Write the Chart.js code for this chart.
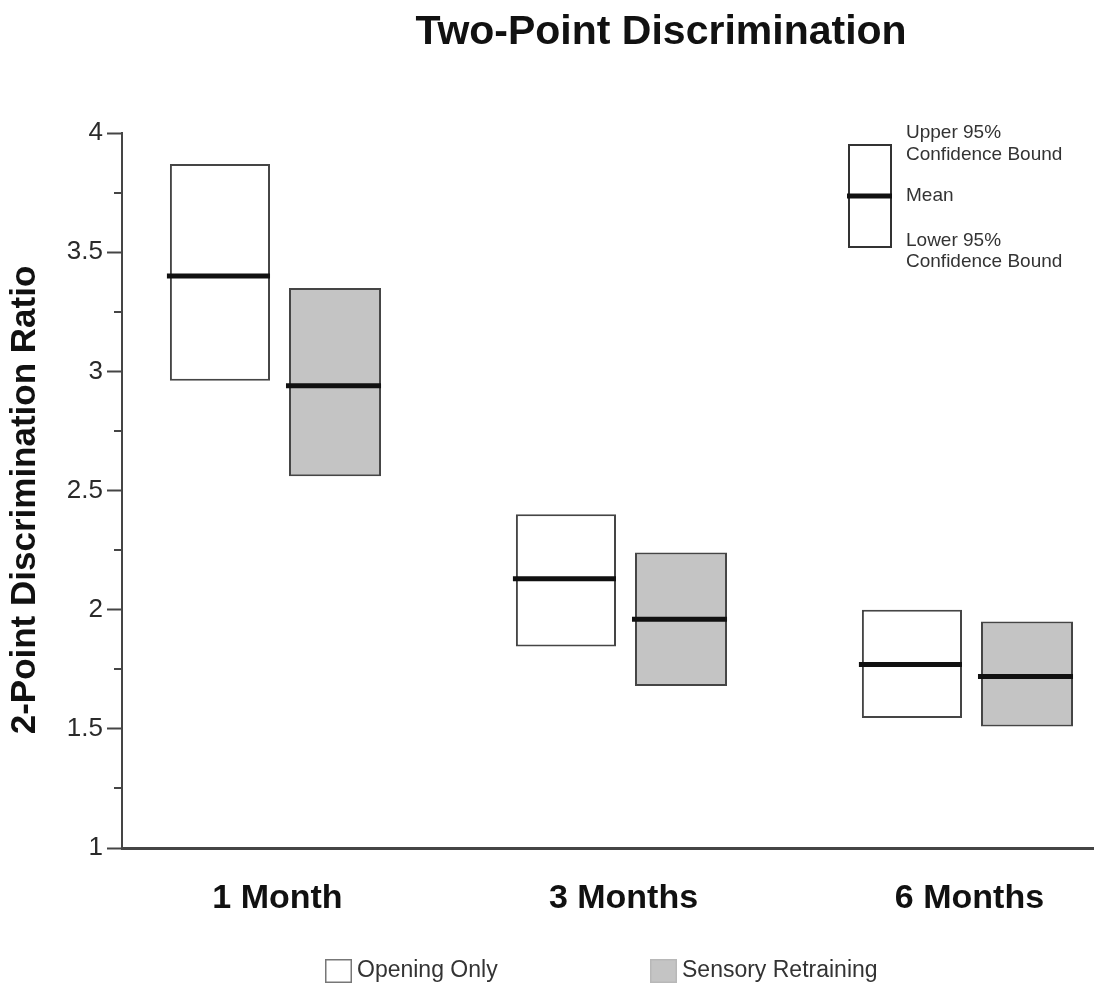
<!DOCTYPE html>
<html>
<head>
<meta charset="utf-8">
<title>Two-Point Discrimination</title>
<script src="https://cdn.jsdelivr.net/npm/chart.js@4/dist/chart.umd.min.js"></script>
<style>
  html, body { margin: 0; padding: 0; background: #ffffff; }
  #wrap { width: 1096px; height: 988px; }
</style>
</head>
<body>
<div id="wrap"><canvas id="chart" width="1096" height="988"></canvas></div>
<script>
// Follow-up periods
const categories = ['1 Month', '3 Months', '6 Months'];

// Opening Only: 95% confidence bounds and mean
const openingLower = [2.96, 1.845, 1.545];
const openingUpper = [3.87, 2.40, 2.00];
const openingMean  = [3.40, 2.13, 1.77];

// Sensory Retraining: 95% confidence bounds and mean
const sensoryLower = [2.56, 1.68, 1.51];
const sensoryUpper = [3.35, 2.24, 1.95];
const sensoryMean  = [2.94, 1.96, 1.72];

// Y axis tick labels (major) and unlabeled minor ticks
const yTickValues = [1, 1.5, 2, 2.5, 3, 3.5, 4];
const yTickLabels = ['1', '1.5', '2', '2.5', '3', '3.5', '4'];
const yMinorTicks = [1.25, 1.75, 2.25, 2.75, 3.25, 3.75];

const seriesNames = ['Opening Only', 'Sensory Retraining'];
const keyLabels = ['Upper 95%', 'Confidence Bound', 'Mean', 'Lower 95%', 'Confidence Bound'];
const yTitle = '2-Point Discrimination Ratio';

const FONT = '"Liberation Sans", Arial, Helvetica, sans-serif';
const EDGE = '#454545';
const GREY_FILL = '#c4c4c4';
const MEAN_COLOR = '#111111';

const means = [openingMean, sensoryMean];

// Thick mean line across each interval box
const meanLines = {
  id: 'meanLines',
  afterDatasetsDraw(chart) {
    const ctx = chart.ctx;
    const y = chart.scales.y;
    ctx.save();
    ctx.strokeStyle = MEAN_COLOR;
    ctx.lineWidth = 5;
    ctx.lineCap = 'butt';
    means.forEach((arr, d) => {
      const meta = chart.getDatasetMeta(d);
      meta.data.forEach((bar, i) => {
        const py = y.getPixelForValue(arr[i]);
        ctx.beginPath();
        ctx.moveTo(bar.x - bar.width / 2 - 3, py);
        ctx.lineTo(bar.x + bar.width / 2, py);
        ctx.stroke();
      });
    });
    ctx.restore();
  }
};

// Short unlabeled ticks between the labeled ones
const minorTicks = {
  id: 'minorTicks',
  afterDraw(chart) {
    const ctx = chart.ctx;
    const y = chart.scales.y;
    const left = chart.chartArea.left;
    ctx.save();
    ctx.strokeStyle = EDGE;
    ctx.lineWidth = 2;
    yMinorTicks.forEach(v => {
      const py = Math.round(y.getPixelForValue(v));
      ctx.beginPath();
      ctx.moveTo(left - 8, py);
      ctx.lineTo(left, py);
      ctx.stroke();
    });
    ctx.restore();
  }
};

// Titles, inset key explaining the box and the series legend
const decorations = {
  id: 'decorations',
  afterDraw(chart) {
    const ctx = chart.ctx;
    const area = chart.chartArea;
    ctx.save();

    // Chart title
    ctx.fillStyle = '#111111';
    ctx.font = 'bold 41px ' + FONT;
    ctx.textAlign = 'center';
    ctx.textBaseline = 'alphabetic';
    ctx.fillText('Two-Point Discrimination', 661, 44);

    // Vertical axis title
    ctx.save();
    ctx.translate(25, 500);
    ctx.rotate(-Math.PI / 2);
    ctx.font = 'bold 35px ' + FONT;
    ctx.textAlign = 'center';
    ctx.textBaseline = 'middle';
    ctx.fillText(yTitle, 0, 0);
    ctx.restore();

    // Inset key: box with mean line
    const kx = area.right - 245, ky = area.top + 11, kw = 44, kh = 104;
    ctx.fillStyle = '#ffffff';
    ctx.fillRect(kx, ky, kw, kh);
    ctx.strokeStyle = '#333333';
    ctx.lineWidth = 2;
    ctx.strokeRect(kx + 1, ky + 1, kw - 2, kh - 2);
    ctx.strokeStyle = MEAN_COLOR;
    ctx.lineWidth = 5;
    ctx.beginPath();
    ctx.moveTo(kx - 1, ky + 52);
    ctx.lineTo(kx + kw, ky + 52);
    ctx.stroke();

    ctx.fillStyle = '#333333';
    ctx.font = '19px ' + FONT;
    ctx.textAlign = 'left';
    ctx.textBaseline = 'middle';
    const tx = kx + 58;
    const rows = [ky - 11, ky + 11, ky + 52, ky + 97, ky + 118];
    keyLabels.forEach((t, i) => ctx.fillText(t, tx, rows[i]));

    // Series legend
    const fills = ['#ffffff', GREY_FILL];
    const strokes = ['#777777', '#b8b8b8'];
    const lx = [325, 650];
    const ly = 959;
    ctx.font = '23px ' + FONT;
    seriesNames.forEach((name, i) => {
      ctx.fillStyle = fills[i];
      ctx.fillRect(lx[i], ly, 27, 24);
      ctx.strokeStyle = strokes[i];
      ctx.lineWidth = 1.5;
      ctx.strokeRect(lx[i] + 0.75, ly + 0.75, 25.5, 22.5);
      ctx.fillStyle = '#333333';
      ctx.fillText(name, lx[i] + 32, ly + 12);
    });

    ctx.restore();
  }
};

const toPoints = (lo, hi) => categories.map((c, i) => ({ x: i + 1, y: [lo[i], hi[i]] }));

new Chart(document.getElementById('chart'), {
  type: 'bar',
  data: {
    datasets: [
      {
        label: seriesNames[0],
        data: toPoints(openingLower, openingUpper),
        backgroundColor: '#ffffff',
        borderColor: EDGE,
        borderWidth: 2,
        borderSkipped: false,
        barPercentage: 0.87,
        categoryPercentage: 0.665
      },
      {
        label: seriesNames[1],
        data: toPoints(sensoryLower, sensoryUpper),
        backgroundColor: GREY_FILL,
        borderColor: EDGE,
        borderWidth: 2,
        borderSkipped: false,
        barPercentage: 0.80,
        categoryPercentage: 0.665
      }
    ]
  },
  options: {
    responsive: false,
    animation: false,
    devicePixelRatio: 1,
    layout: { padding: { top: 133, right: 3, bottom: 0, left: 0 } },
    plugins: {
      legend: { display: false },
      title: { display: false },
      tooltip: { enabled: false }
    },
    scales: {
      x: {
        type: 'linear',
        offset: false,
        min: 0.5506,
        max: 3.357,
        afterBuildTicks(scale) {
          scale.ticks = categories.map((c, i) => ({ value: i + 1 }));
        },
        afterFit(scale) { scale.height = 140; },
        ticks: {
          callback: (v) => categories[v - 1] ?? '',
          font: { family: FONT, size: 34, weight: 'bold' },
          color: '#111111',
          padding: 30,
          maxRotation: 0,
          autoSkip: false
        },
        grid: { display: false, drawTicks: false, offset: false },
        border: { display: true, color: EDGE, width: 3 }
      },
      y: {
        min: 1,
        max: 4,
        afterBuildTicks(scale) {
          scale.ticks = yTickValues.map(v => ({ value: v }));
        },
        afterFit(scale) { scale.width = 122; },
        ticks: {
          callback: (v) => yTickLabels[yTickValues.indexOf(v)] ?? '',
          font: { family: FONT, size: 26 },
          color: '#2a2a2a',
          padding: 4
        },
        grid: {
          drawOnChartArea: false,
          drawTicks: true,
          tickLength: 15,
          tickColor: EDGE,
          tickWidth: 2,
          color: EDGE
        },
        border: { display: true, color: EDGE, width: 2 }
      }
    }
  },
  plugins: [meanLines, minorTicks, decorations]
});
</script>
</body>
</html>
